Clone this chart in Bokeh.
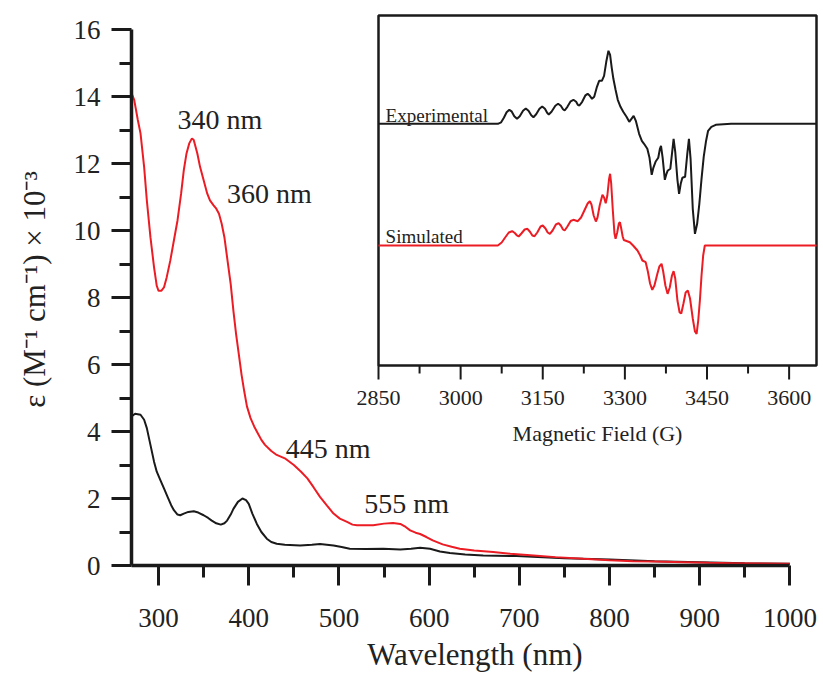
from bokeh.plotting import figure
from bokeh.models import Range1d, FixedTicker
from bokeh.core.properties import value
from bokeh.embed import file_html
from bokeh.resources import INLINE

# ---------------- UV-vis data ----------------
wl_red = [270, 273, 277, 280, 284, 287, 291, 295, 298, 300, 303, 306, 309, 313, 317, 321, 325,
          328, 331, 334, 337, 339, 341, 343, 346, 350, 354, 357, 361, 364, 367, 370, 373, 376,
          380, 383, 386, 389, 392, 395, 398, 402, 406, 410, 414, 418, 425, 431, 440, 450, 458,
          465, 472, 479, 487, 494, 501, 509, 515, 520, 530, 538, 550, 560, 568, 574, 579, 585,
          590, 597, 604, 615, 625, 634, 650, 671, 690, 716, 740, 771, 800, 826, 850, 882, 910,
          937, 970, 1000]
eps_red = [14.1, 13.9, 13.3, 12.9, 11.9, 10.9, 9.8, 8.9, 8.35, 8.2, 8.2, 8.3, 8.6, 9.1, 9.7, 10.3, 11.1,
           11.8, 12.3, 12.6, 12.75, 12.7, 12.5, 12.3, 11.9, 11.5, 11.1, 10.9, 10.75, 10.65, 10.5, 10.2, 9.8, 9.2,
           8.4, 7.6, 6.9, 6.3, 5.7, 5.2, 4.75, 4.4, 4.15, 3.95, 3.75, 3.6, 3.42, 3.3, 3.2, 3.0, 2.8,
           2.6, 2.33, 2.05, 1.78, 1.55, 1.4, 1.3, 1.22, 1.2, 1.2, 1.2, 1.25, 1.27, 1.24, 1.15, 1.05, 0.98,
           0.94, 0.85, 0.75, 0.63, 0.56, 0.5, 0.45, 0.4, 0.35, 0.3, 0.25, 0.2, 0.16, 0.13, 0.12, 0.1, 0.08,
           0.07, 0.06, 0.05]

wl_black = [270, 274, 280, 284, 287, 291, 295, 298, 302, 306, 310, 314, 317, 321, 324, 328, 333,
            339, 344, 350, 355, 359, 364, 369, 373, 376, 380, 383, 388, 393, 397, 400, 404, 409,
            414, 420, 425, 431, 440, 457, 470, 479, 494, 503, 512, 530, 549, 568, 580, 590, 601,
            612, 623, 640, 660, 697, 750, 800, 850, 900, 950, 1000]
eps_black = [4.45, 4.53, 4.5, 4.35, 4.1, 3.6, 3.1, 2.8, 2.55, 2.3, 2.05, 1.8, 1.65, 1.52, 1.5, 1.55, 1.6,
             1.62, 1.58, 1.5, 1.42, 1.34, 1.26, 1.22, 1.26, 1.34, 1.52, 1.69, 1.9, 2.0, 1.95, 1.84, 1.55, 1.24,
             1.0, 0.8, 0.7, 0.65, 0.62, 0.6, 0.62, 0.64, 0.6, 0.55, 0.5, 0.49, 0.5, 0.48, 0.5, 0.53, 0.5,
             0.42, 0.37, 0.33, 0.3, 0.28, 0.22, 0.18, 0.13, 0.1, 0.07, 0.05]

x_major = [300, 400, 500, 600, 700, 800, 900, 1000]
x_minor = [350, 450, 550, 650, 750, 850, 950]
y_major = [0, 2, 4, 6, 8, 10, 12, 14, 16]
y_minor = [1, 3, 5, 7, 9, 11, 13, 15]

peak_labels = ["340 nm", "360 nm", "445 nm", "555 nm"]
peak_x = [321, 376, 441, 528]
peak_y = [13.3, 11.1, 3.48, 1.84]

# ---------------- EPR data (inset) ----------------
field_exp = [2850, 3068, 3074, 3079, 3084, 3089, 3093, 3098, 3103, 3108, 3114, 3119, 3124, 3129,
             3133, 3138, 3144, 3149, 3154, 3158, 3161, 3166, 3173, 3178, 3183, 3187, 3190, 3195,
             3201, 3206, 3211, 3214, 3217, 3222, 3228, 3232, 3236, 3240, 3244, 3249, 3253, 3258,
             3262, 3266, 3270, 3273, 3276, 3279, 3283, 3287, 3292, 3297, 3303, 3308, 3312, 3316,
             3320, 3326, 3331, 3335, 3341, 3345, 3349, 3352, 3356, 3361, 3364, 3366, 3369, 3373,
             3376, 3378, 3383, 3386, 3389, 3392, 3396, 3399, 3402, 3405, 3410, 3414, 3417, 3420,
             3424, 3428, 3432, 3436, 3440, 3444, 3448, 3452, 3458, 3466, 3494, 3650]
int_exp = [0, 0, 0.15, 0.6, 1.15, 1.4, 1.25, 0.75, 0.5, 0.75, 1.3, 1.53, 1.3, 0.85,
           0.66, 0.95, 1.5, 1.73, 1.5, 1.1, 0.93, 1.2, 1.8, 2.0, 1.8, 1.45, 1.33, 1.7,
           2.25, 2.4, 2.2, 1.9, 1.83, 2.2, 2.85, 3.0, 2.8, 2.5, 2.7, 3.7, 4.3, 4.3,
           4.8, 6.2, 7.3, 6.9, 5.6, 4.5, 3.4, 2.4, 1.7, 1.2, 0.7, 0.2, 0.5, 0.8,
           0.3, -1.0, -1.7, -2.0, -2.5, -3.4, -5.1, -4.4, -3.8, -3.4, -2.5, -2.2, -3.4, -5.6,
           -5.0, -4.7, -4.5, -3.0, -1.5, -2.8, -5.6, -7.0, -6.0, -5.4, -5.3, -3.0, -1.5, -3.5,
           -8.5, -11.0, -10.0, -8.0, -5.5, -3.3, -1.8, -0.7, -0.3, -0.1, 0, 0]

field_sim = [2850, 3068, 3075, 3082, 3088, 3094, 3099, 3103, 3106, 3111, 3117, 3122, 3127, 3131,
             3135, 3140, 3146, 3150, 3155, 3159, 3163, 3168, 3174, 3179, 3183, 3187, 3190, 3195,
             3201, 3206, 3210, 3214, 3220, 3226, 3232, 3236, 3239, 3243, 3247, 3250, 3254, 3259,
             3262, 3265, 3268, 3271, 3273, 3275, 3278, 3281, 3283, 3286, 3289, 3291, 3293, 3296,
             3298, 3303, 3309, 3315, 3323, 3328, 3332, 3338, 3342, 3346, 3350, 3354, 3359, 3363,
             3367, 3370, 3374, 3378, 3382, 3386, 3389, 3392, 3396, 3400, 3403, 3407, 3411, 3415,
             3419, 3424, 3428, 3431, 3434, 3437, 3440, 3443, 3446, 3650]
int_sim = [0, 0, 0.3, 0.85, 1.3, 1.43, 1.25, 1.0, 0.9, 1.2, 1.6, 1.67, 1.35, 1.0,
           0.93, 1.3, 1.9, 2.0, 1.7, 1.3, 1.17, 1.5, 2.1, 2.23, 2.0, 1.6, 1.5, 1.9,
           2.45, 2.57, 2.5, 2.43, 2.8, 3.5, 4.2, 4.43, 4.1, 3.0, 2.4, 2.8, 4.0, 5.07,
           4.8, 4.23, 5.0, 6.6, 7.17, 6.2, 3.5, 1.2, 0.67, 1.3, 2.2, 2.33, 1.8, 0.9,
           0.55, 0.45, 0.33, 0.0, -0.5, -1.0, -1.5, -1.67, -2.6, -3.8, -4.43, -4.0, -2.9, -2.1,
           -1.83, -2.6, -4.0, -4.83, -4.2, -3.0, -2.57, -3.3, -5.5, -6.7, -6.8, -5.8, -4.7, -4.5,
           -5.3, -7.3, -8.6, -8.83, -7.5, -5.5, -3.0, -1.0, 0, 0]

exp_offset = 24.17
sim_offset = 12.0
trace_names = ["Experimental", "Simulated"]
epr_major = [2850, 3000, 3150, 3300, 3450, 3600]
epr_minor = [2925, 3075, 3225, 3375, 3525]
epr_start, epr_end = 2850, 3650

# ---------------- layout constants (pixels) ----------------
W, H = 820, 675
FL, FR, FT, FB = 131, 818, 13, 565         # main frame
IL, IR, IT, IB = 378, 816, 15, 365         # inset box
X0, XPX = 270, 0.9019                      # x start, px per nm
Y16 = 29                                   # pixel of y=16
SERIF = "Liberation Serif"
RED = "#ec1c24"
INK = "#1a1a1a"

x_end = X0 + (FR - FL) / XPX
ypx = (FB - Y16) / 16.0
y_end = (FB - FT) / ypx

p = figure(width=W, height=H, x_range=Range1d(X0, x_end), y_range=Range1d(0, y_end),
           output_backend="svg", toolbar_location=None, title=None,
           min_border_left=FL, min_border_right=W - FR, min_border_top=FT,
           min_border_bottom=H - FB)
p.outline_line_color = None
p.grid.visible = False
p.background_fill_color = "white"
p.border_fill_color = "white"

for ax in (p.xaxis[0], p.yaxis[0]):
    ax.axis_line_width = 3.5
    ax.axis_line_color = INK
    ax.major_tick_line_width = 3
    ax.minor_tick_line_width = 3
    ax.major_tick_line_color = INK
    ax.minor_tick_line_color = INK
    ax.major_tick_in = 0
    ax.major_tick_out = 20
    ax.minor_tick_in = 0
    ax.minor_tick_out = 12
    ax.major_label_text_font = SERIF
    ax.major_label_text_font_size = "27px"
    ax.major_label_text_color = "#222222"
    ax.axis_label_text_font = SERIF
    ax.axis_label_text_font_style = "normal"
    ax.axis_label_text_font_size = "31px"
    ax.axis_label_text_color = "#222222"

p.xaxis.ticker = FixedTicker(ticks=x_major, minor_ticks=x_minor)
p.yaxis.ticker = FixedTicker(ticks=y_major, minor_ticks=y_minor)
p.xaxis.bounds = (X0, x_major[-1])
p.yaxis.bounds = (y_major[0], y_major[-1])
p.xaxis.axis_label = "Wavelength (nm)"
p.yaxis.axis_label = "ε (M⁻¹ cm⁻¹) × 10⁻³"
p.xaxis.major_label_standoff = 23
p.yaxis.major_label_standoff = 11
p.xaxis.axis_label_standoff = 7
p.yaxis.axis_label_standoff = 19

p.line(wl_black, eps_black, line_color=INK, line_width=2)
p.line(wl_red, eps_red, line_color=RED, line_width=2)

p.text(x=peak_x, y=peak_y, text=peak_labels, text_font=value(SERIF),
       text_font_size=value("28px"), text_color="#222222",
       text_align="left", text_baseline="alphabetic")

# ---------------- inset (drawn on extra ranges) ----------------
gpx = (IR - IL) / (epr_end - epr_start)
ins_x0 = epr_start - (IL - FL) / gpx
ins_x1 = epr_end + (FR - IR) / gpx
unit = 10.0  # px per inset y unit
ins_top = (IB - IT) / unit
ins_y0 = -(FB - IB) / unit
ins_y1 = ins_top + (IT - FT) / unit
p.extra_x_ranges = {"ins": Range1d(ins_x0, ins_x1)}
p.extra_y_ranges = {"ins": Range1d(ins_y0, ins_y1)}
kw = dict(x_range_name="ins", y_range_name="ins")

p.quad(left=[epr_start], right=[epr_end], bottom=[0], top=[ins_top],
       fill_color="white", line_color=INK, line_width=2.5, **kw)

p.line(field_exp, [v + exp_offset for v in int_exp], line_color=INK, line_width=2, **kw)
p.line(field_sim, [v + sim_offset for v in int_sim], line_color=RED, line_width=2, **kw)

p.segment(x0=epr_major, x1=epr_major, y0=[0] * len(epr_major), y1=[-14 / unit] * len(epr_major),
          line_color=INK, line_width=2, **kw)
p.segment(x0=epr_minor, x1=epr_minor, y0=[0] * len(epr_minor), y1=[-8 / unit] * len(epr_minor),
          line_color=INK, line_width=2, **kw)
p.text(x=epr_major, y=[-32 / unit] * len(epr_major), text=[str(t) for t in epr_major],
       text_font=value(SERIF), text_font_size=value("22px"), text_color="#222222",
       text_align="center", text_baseline="middle", **kw)
p.text(x=[(epr_start + epr_end) / 2], y=[-68 / unit], text=["Magnetic Field (G)"],
       text_font=value(SERIF), text_font_size=value("22px"), text_color="#222222",
       text_align="center", text_baseline="middle", **kw)
p.text(x=[epr_start + 13] * 2, y=[exp_offset + 0.83, sim_offset + 0.9], text=trace_names,
       text_font=value(SERIF), text_font_size=value("19px"), text_color="#222222",
       text_align="left", text_baseline="alphabetic", **kw)

open("out.html", "w").write(file_html(p, INLINE))
